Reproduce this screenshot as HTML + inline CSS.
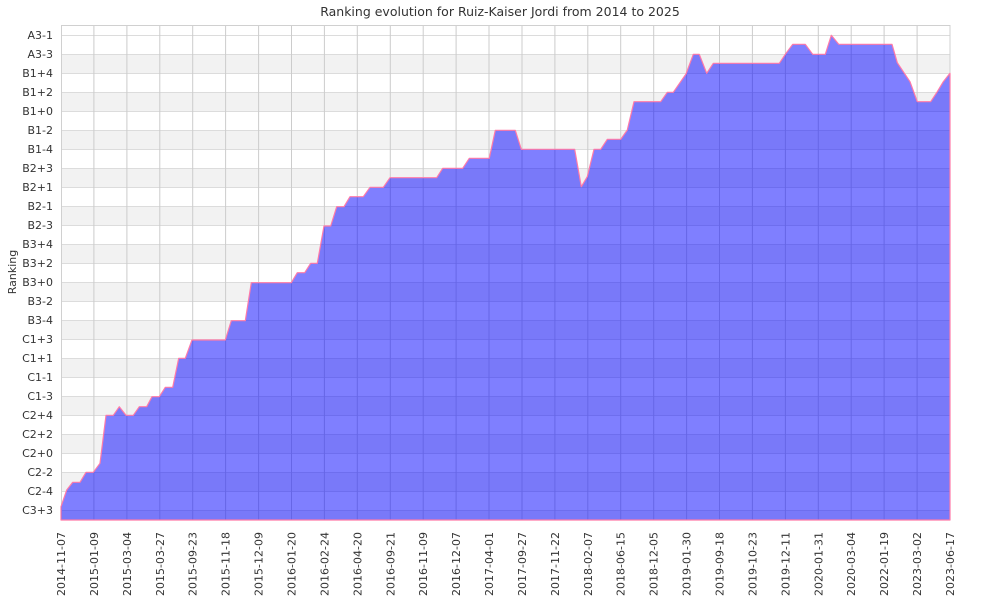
<!DOCTYPE html>
<html><head><meta charset="utf-8"><style>
html,body{margin:0;padding:0;background:#fff;}
svg{display:block;font-family:"DejaVu Sans","Liberation Sans",sans-serif;}
</style></head><body>
<svg width="1000" height="600" viewBox="0 0 1000 600" xmlns="http://www.w3.org/2000/svg">
<rect x="0" y="0" width="1000" height="600" fill="#fff"/>
<text x="500" y="16" text-anchor="middle" font-size="12.5" fill="#333">Ranking evolution for Ruiz-Kaiser Jordi from 2014 to 2025</text>
<g fill="#f2f2f2">
<rect x="61" y="54" width="889" height="19"/><rect x="61" y="92" width="889" height="19"/><rect x="61" y="130" width="889" height="19"/><rect x="61" y="168" width="889" height="19"/><rect x="61" y="206" width="889" height="19"/><rect x="61" y="244" width="889" height="19"/><rect x="61" y="282" width="889" height="19"/><rect x="61" y="320" width="889" height="19"/><rect x="61" y="358" width="889" height="19"/><rect x="61" y="396" width="889" height="19"/><rect x="61" y="434" width="889" height="19"/><rect x="61" y="472" width="889" height="19"/><rect x="61" y="510" width="889" height="10"/>
</g>
<g stroke="#dcdcdc" stroke-width="1">
<path d="M61 35.5H950M61 54.5H950M61 73.5H950M61 92.5H950M61 111.5H950M61 130.5H950M61 149.5H950M61 168.5H950M61 187.5H950M61 206.5H950M61 225.5H950M61 244.5H950M61 263.5H950M61 282.5H950M61 301.5H950M61 320.5H950M61 339.5H950M61 358.5H950M61 377.5H950M61 396.5H950M61 415.5H950M61 434.5H950M61 453.5H950M61 472.5H950M61 491.5H950M61 510.5H950"/>
</g>
<g stroke="#cccccc" stroke-width="1">
<path d="M93.9 25V520M126.9 25V520M159.8 25V520M192.7 25V520M225.6 25V520M258.6 25V520M291.5 25V520M324.4 25V520M357.3 25V520M390.3 25V520M423.2 25V520M456.1 25V520M489 25V520M522 25V520M554.9 25V520M587.8 25V520M620.7 25V520M653.7 25V520M686.6 25V520M719.5 25V520M752.4 25V520M785.4 25V520M818.3 25V520M851.2 25V520M884.1 25V520M917.1 25V520"/>
</g>
<rect x="61.5" y="25.5" width="888.5" height="494.5" fill="none" stroke="#d0d0d0"/>
<path fill="rgba(0,0,255,0.5)" stroke="#ff7aa8" stroke-width="1.2" stroke-linejoin="round" d="M61 520 L61 506.7 L66.7 490 L72.7 482.3 L80 482.3 L86 472.3 L93.3 472.3 L100 463.3 L106 415.3 L113.3 415.3 L119.3 406.7 L126 415.3 L133.3 415.3 L139.3 406.7 L146.7 406.7 L152 396.7 L159.3 396.7 L165.3 387.3 L172.7 387.3 L178.7 358.3 L185.3 358.3 L192 340 L225.3 340 L231.3 320.7 L245.3 320.7 L251.3 282.7 L291.3 282.7 L297.3 272.7 L304.7 272.7 L310.7 263.3 L317.3 263.3 L324 226 L330.7 226 L336.7 206.7 L344 206.7 L350 196.7 L363.3 196.7 L370 187.3 L383.3 187.3 L390 177.7 L436.7 177.7 L442.7 168.3 L462.7 168.3 L469.3 158.3 L489.3 158.3 L495.3 130.3 L515.3 130.3 L521.3 149.3 L574.7 149.3 L581.3 186.7 L587.3 176.7 L594 149.3 L600.7 149.3 L607.3 139.3 L620.7 139.3 L627.3 130 L634 101.7 L660.7 101.7 L667.3 92.3 L673.3 92.3 L686 74 L693.3 54.3 L699.3 54.3 L706.7 73.3 L713.3 63.3 L779.3 63.3 L786 53.3 L792.7 44.3 L805.3 44.3 L812.7 54.3 L825.3 54.3 L831.3 35.3 L838.7 44.3 L892 44.3 L897.3 62.7 L910 81.7 L917.3 101.7 L930.7 101.7 L937.3 91.7 L943.3 81.7 L950 73.3 L950 520 Z"/>
<g font-size="11" fill="#333" text-anchor="end">
<text x="53" y="39">A3-1</text><text x="53" y="58">A3-3</text><text x="53" y="77">B1+4</text><text x="53" y="96">B1+2</text><text x="53" y="115">B1+0</text><text x="53" y="134">B1-2</text><text x="53" y="153">B1-4</text><text x="53" y="172">B2+3</text><text x="53" y="191">B2+1</text><text x="53" y="210">B2-1</text><text x="53" y="229">B2-3</text><text x="53" y="248">B3+4</text><text x="53" y="267">B3+2</text><text x="53" y="286">B3+0</text><text x="53" y="305">B3-2</text><text x="53" y="324">B3-4</text><text x="53" y="343">C1+3</text><text x="53" y="362">C1+1</text><text x="53" y="381">C1-1</text><text x="53" y="400">C1-3</text><text x="53" y="419">C2+4</text><text x="53" y="438">C2+2</text><text x="53" y="457">C2+0</text><text x="53" y="476">C2-2</text><text x="53" y="495">C2-4</text><text x="53" y="514">C3+3</text>
</g>
<text transform="translate(16,272) rotate(-90)" text-anchor="middle" font-size="11" fill="#333">Ranking</text>
<g font-size="11" fill="#333" text-anchor="end">
<text transform="translate(65,532) rotate(-90)">2014-11-07</text>
<text transform="translate(97.9,532) rotate(-90)">2015-01-09</text>
<text transform="translate(130.9,532) rotate(-90)">2015-03-04</text>
<text transform="translate(163.8,532) rotate(-90)">2015-03-27</text>
<text transform="translate(196.7,532) rotate(-90)">2015-09-23</text>
<text transform="translate(229.6,532) rotate(-90)">2015-11-18</text>
<text transform="translate(262.6,532) rotate(-90)">2015-12-09</text>
<text transform="translate(295.5,532) rotate(-90)">2016-01-20</text>
<text transform="translate(328.4,532) rotate(-90)">2016-02-24</text>
<text transform="translate(361.3,532) rotate(-90)">2016-04-20</text>
<text transform="translate(394.3,532) rotate(-90)">2016-09-21</text>
<text transform="translate(427.2,532) rotate(-90)">2016-11-09</text>
<text transform="translate(460.1,532) rotate(-90)">2016-12-07</text>
<text transform="translate(493,532) rotate(-90)">2017-04-01</text>
<text transform="translate(526,532) rotate(-90)">2017-09-27</text>
<text transform="translate(558.9,532) rotate(-90)">2017-11-22</text>
<text transform="translate(591.8,532) rotate(-90)">2018-02-07</text>
<text transform="translate(624.7,532) rotate(-90)">2018-06-15</text>
<text transform="translate(657.7,532) rotate(-90)">2018-12-05</text>
<text transform="translate(690.6,532) rotate(-90)">2019-01-30</text>
<text transform="translate(723.5,532) rotate(-90)">2019-09-18</text>
<text transform="translate(756.4,532) rotate(-90)">2019-10-23</text>
<text transform="translate(789.4,532) rotate(-90)">2019-12-11</text>
<text transform="translate(822.3,532) rotate(-90)">2020-01-31</text>
<text transform="translate(855.2,532) rotate(-90)">2020-03-04</text>
<text transform="translate(888.1,532) rotate(-90)">2022-01-19</text>
<text transform="translate(921.1,532) rotate(-90)">2023-03-02</text>
<text transform="translate(954,532) rotate(-90)">2023-06-17</text>
</g>
</svg>
</body></html>
